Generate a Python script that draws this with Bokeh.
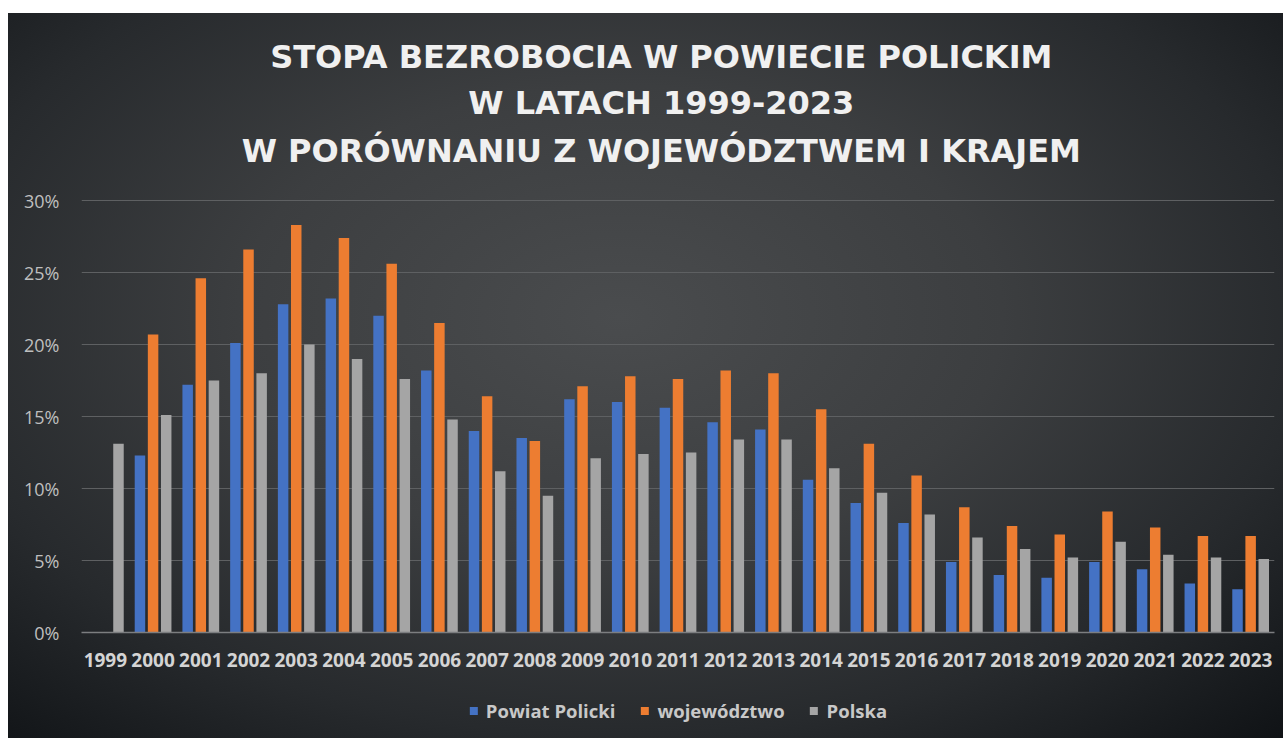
from bokeh.plotting import figure
from bokeh.layouts import column
from bokeh.models import ColumnDataSource, Label, Legend, LegendItem, PrintfTickFormatter, FixedTicker
from bokeh.transform import dodge
from bokeh.embed import file_html
from bokeh.resources import INLINE

nan = float("nan")
years = [str(y) for y in range(1999, 2024)]
powiat = [nan, 12.3, 17.2, 20.1, 22.8, 23.2, 22.0, 18.2, 14.0, 13.5, 16.2, 16.0, 15.6,
          14.6, 14.1, 10.6, 9.0, 7.6, 4.9, 4.0, 3.8, 4.9, 4.4, 3.4, 3.0]
wojewodztwo = [nan, 20.7, 24.6, 26.6, 28.3, 27.4, 25.6, 21.5, 16.4, 13.3, 17.1, 17.8, 17.6,
               18.2, 18.0, 15.5, 13.1, 10.9, 8.7, 7.4, 6.8, 8.4, 7.3, 6.7, 6.7]
polska = [13.1, 15.1, 17.5, 18.0, 20.0, 19.0, 17.6, 14.8, 11.2, 9.5, 12.1, 12.4, 12.5,
          13.4, 13.4, 11.4, 9.7, 8.2, 6.6, 5.8, 5.2, 6.3, 5.4, 5.2, 5.1]
y_ticks = [0, 5, 10, 15, 20, 25, 30]
series_names = ["Powiat Policki", "województwo", "Polska"]
title_lines = ["STOPA BEZROBOCIA W POWIECIE POLICKIM", "W LATACH 1999-2023",
               "W PORÓWNANIU Z WOJEWÓDZTWEM I KRAJEM"]

PX_PER_PCT = 14.4
FW, FH = 1193, 619
Y_TOP = FH / PX_PER_PCT
BOTTOM = 56
LEG_H = 725 - FH - BOTTOM

colors = ["#4472c4", "#ed7d31", "#a5a5a5"]
cols = ["powiat", "woj", "polska"]
offs = [-0.275, 0.0, 0.275]

src = ColumnDataSource(dict(year=years, powiat=powiat, woj=wojewodztwo, polska=polska))

p = figure(x_range=years, y_range=(0, Y_TOP), frame_width=FW, frame_height=FH,
           output_backend="svg", toolbar_location=None, title=None,
           min_border_left=73, min_border_right=9, min_border_top=0, min_border_bottom=BOTTOM)
p.background_fill_alpha = 0
p.border_fill_alpha = 0
p.outline_line_color = None

for c, col, off in zip(cols, colors, offs):
    p.vbar(x=dodge("year", off, range=p.x_range), top=c, width=0.22, source=src,
           fill_color=col, line_color=None)

# title lines drawn inside the top part of the frame (centre of chart ~ synthetic x 12.15)
title_y = [40.0, 36.8, 33.45]
for line, ty in zip(title_lines, title_y):
    p.add_layout(Label(x=12.15, y=ty, text=line,
                       text_align="center", text_baseline="middle",
                       text_color="#f0f0f0", text_font="DejaVu Sans",
                       text_font_style="bold", text_font_size="32px"))

p.xgrid.grid_line_color = None
p.ygrid.grid_line_color = "#5e6062"
p.ygrid.grid_line_width = 1
p.ygrid.ticker = FixedTicker(ticks=y_ticks)

p.yaxis.ticker = FixedTicker(ticks=y_ticks)
p.yaxis.formatter = PrintfTickFormatter(format="%d%%")
p.yaxis.axis_line_color = None
p.yaxis.major_tick_line_color = None
p.yaxis.minor_tick_line_color = None
p.yaxis.major_label_standoff = 16
p.yaxis.major_label_text_color = "#bfbfbf"
p.yaxis.major_label_text_font = "Open Sans"
p.yaxis.major_label_text_font_size = "18px"

p.xaxis.axis_line_color = "#7c7e80"
p.xaxis.axis_line_width = 1.5
p.xaxis.major_tick_line_color = None
p.xaxis.minor_tick_line_color = None
p.xaxis.major_label_standoff = 14
p.xaxis.major_label_text_color = "#d4d4d4"
p.xaxis.major_label_text_font = "Open Sans"
p.xaxis.major_label_text_font_style = "bold"
p.xaxis.major_label_text_font_size = "19px"

# legend strip below the chart (zero-width bars outside the visible range only carry swatches)
q = figure(x_range=years, y_range=(-2, -1), width=1275, height=LEG_H,
           output_backend="svg", toolbar_location=None,
           x_axis_type=None, y_axis_type=None, title=None,
           min_border_left=0, min_border_right=0, min_border_top=0, min_border_bottom=6)
q.background_fill_alpha = 0
q.border_fill_alpha = 0
q.outline_line_color = None
q.grid.grid_line_color = None
leg_rends = [q.vbar(x=dodge("year", off, range=q.x_range), top=c, width=0, source=src,
                    fill_color=col, line_color=None)
             for c, col, off in zip(cols, colors, offs)]
legend = Legend(items=[LegendItem(label=n, renderers=[r]) for n, r in zip(series_names, leg_rends)],
                orientation="horizontal", location="center",
                background_fill_alpha=0, border_line_color=None,
                label_text_color="#c8c8c8", label_text_font="Open Sans",
                label_text_font_style="bold", label_text_font_size="18.5px",
                glyph_width=10, glyph_height=10, spacing=24, label_standoff=8,
                padding=2, margin=0)
q.add_layout(legend)

layout = column(p, q, spacing=0)
layout.margin = (13, 0, 0, 8)
layout.styles = {"background": "radial-gradient(ellipse 75% 80% at 48% 42%, #4a4c4e 0%, #3c3e40 40%, #272a2d 72%, #101316 100%)"}

open("out.html", "w").write(file_html(layout, INLINE))
